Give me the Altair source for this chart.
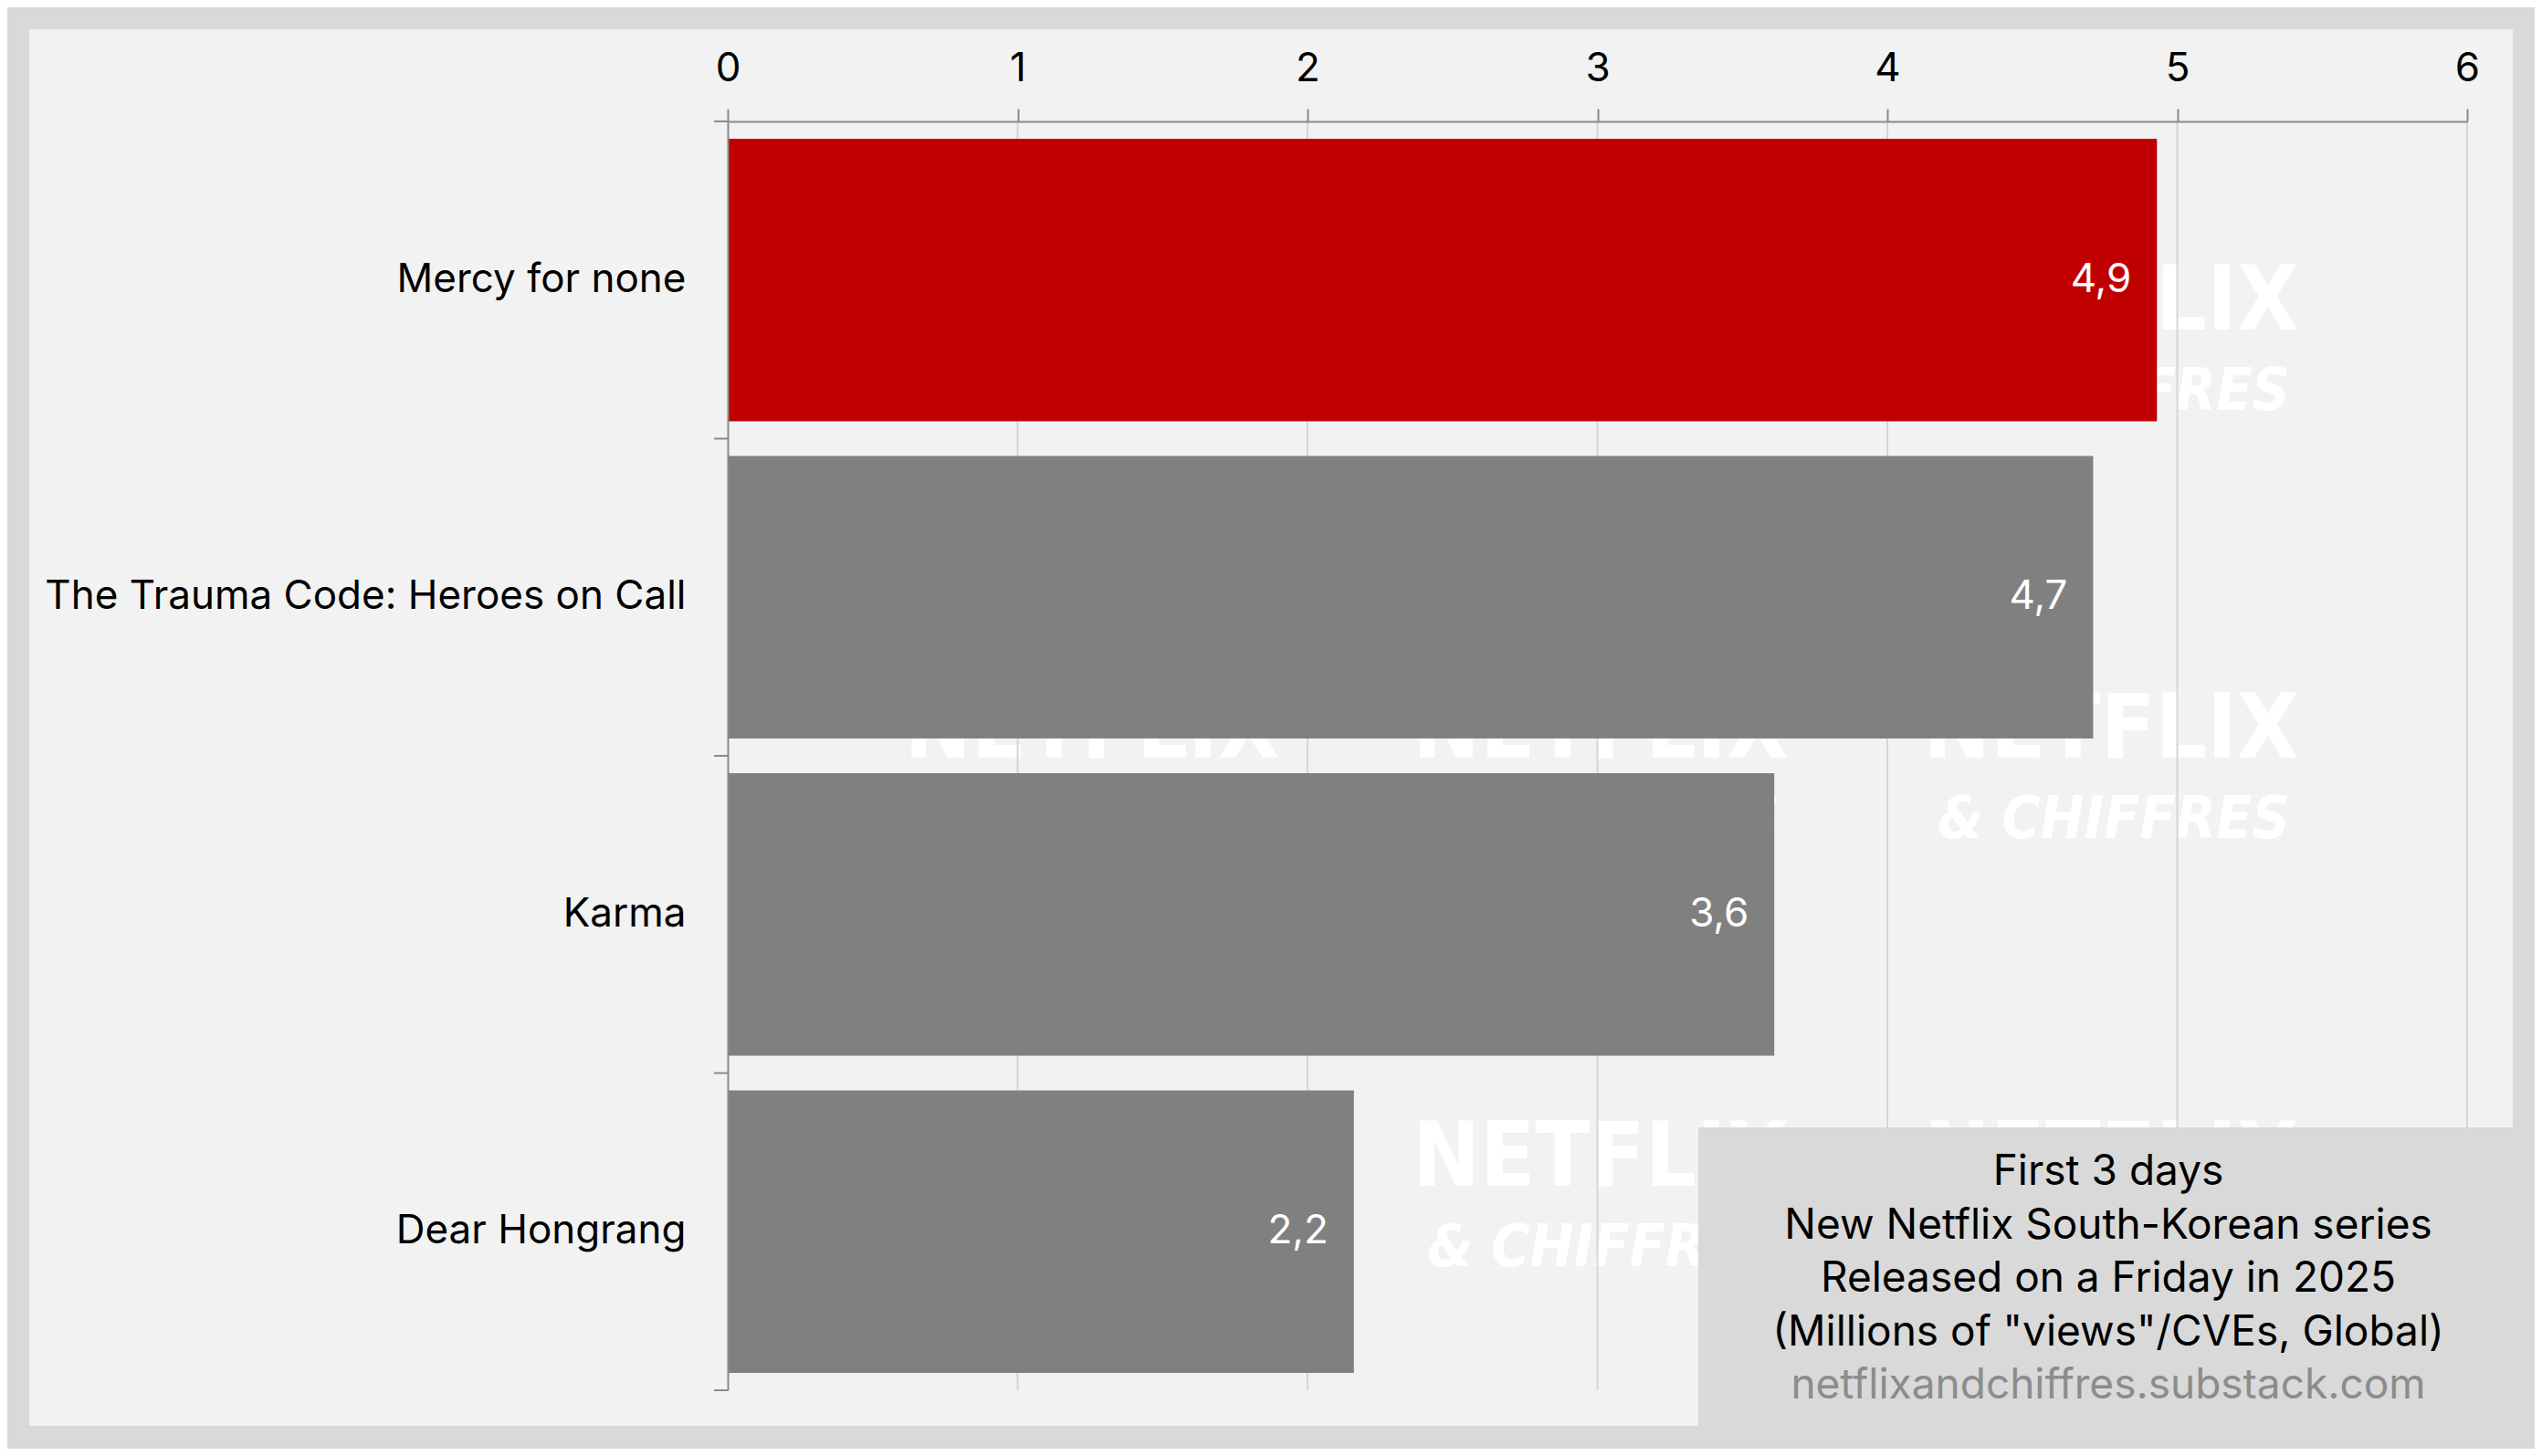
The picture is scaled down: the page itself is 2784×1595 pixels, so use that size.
import altair as alt
import pandas as pd

# ---- data ----
titles = ["Mercy for none", "The Trauma Code: Heroes on Call", "Karma", "Dear Hongrang"]
views = [4.93, 4.71, 3.61, 2.16]
value_labels = ["4,9", "4,7", "3,6", "2,2"]
highlight = [True, False, False, False]
x_ticks = [0, 1, 2, 3, 4, 5, 6]
note_lines = [
    "First 3 days",
    "New Netflix South-Korean series",
    "Released on a Friday in 2025",
    '(Millions of "views"/CVEs, Global)',
]
source_text = "netflixandchiffres.substack.com"
wm_top = "NETFLIX"
wm_bottom = "& CHIFFRES"

# ---- layout / style ----
W, H = 1905, 1390
PAD_INNER, PAD_OUTER = 0.11, 0.055
STEP = H / len(titles)
GAP = STEP * PAD_INNER / 2
FONT = "Inter"
FS = 44
NOTE_FS = 46
AXIS_GRAY = "#8a8a8a"
WM_FONT = "DejaVu Sans Condensed, Liberation Sans, sans-serif"

df = pd.DataFrame({"title": titles, "views": views, "label": value_labels, "hl": highlight})
grid_df = pd.DataFrame({"v": x_ticks[1:]})
one = pd.DataFrame({"a": [0]})

xscale = alt.Scale(domain=[x_ticks[0], x_ticks[-1]], nice=False)
yscale = alt.Scale(domain=titles, paddingInner=PAD_INNER, paddingOuter=PAD_OUTER)

panel = alt.Chart(one).mark_rect(color="#f2f2f2").encode(
    x=alt.value(-765), x2=alt.value(1955), y=alt.value(-101), y2=alt.value(1429)
)

wm_layers = []
for cx in (399, 956, 1515):
    for by in (228, 697, 1166):
        wm_layers.append(
            alt.Chart(one).mark_text(
                text=wm_top, font=WM_FONT, fontWeight="bold", fontSize=98,
                color="white", align="center", baseline="alphabetic"
            ).encode(x=alt.value(cx), y=alt.value(by))
        )
        wm_layers.append(
            alt.Chart(one).mark_text(
                text=wm_bottom, font=WM_FONT, fontWeight="bold", fontStyle="italic",
                fontSize=64, color="white", align="center", baseline="alphabetic"
            ).encode(x=alt.value(cx + 3), y=alt.value(by + 88))
        )

grid = alt.Chart(grid_df).mark_rule(color="#d6d6d6", strokeWidth=2).encode(
    x=alt.X("v:Q", scale=xscale), y=alt.value(0), y2=alt.value(H)
)

bars = alt.Chart(df).mark_bar().encode(
    x=alt.X(
        "views:Q", scale=xscale,
        axis=alt.Axis(
            orient="top", values=x_ticks, grid=False, tickSize=14, labelPadding=22,
            domainColor=AXIS_GRAY, tickColor=AXIS_GRAY, domainWidth=2, tickWidth=2,
            labelFontSize=FS, labelColor="black", labelFont=FONT, title=None,
            labelFlush=False, zindex=1, format="d"
        ),
    ),
    y=alt.Y(
        "title:N", sort=titles, scale=yscale,
        axis=alt.Axis(
            ticks=False, labelPadding=46, domainColor=AXIS_GRAY, domainWidth=2,
            labelFontSize=FS, labelColor="black", labelFont=FONT, title=None,
            labelLimit=2000, zindex=1
        ),
    ),
    color=alt.condition("datum.hl", alt.value("#c00000"), alt.value("#808080")),
)

labels = alt.Chart(df).mark_text(
    align="right", baseline="middle", dx=-28, color="white", fontSize=FS, font=FONT
).encode(
    x=alt.X("views:Q", scale=xscale),
    y=alt.Y("title:N", sort=titles, scale=yscale),
    text="label:N",
)

ticks_top = alt.Chart(df).mark_rule(color=AXIS_GRAY, strokeWidth=2, yOffset=-GAP).encode(
    y=alt.Y("title:N", sort=titles, scale=yscale, bandPosition=0),
    x=alt.value(-15), x2=alt.value(0),
)
ticks_end = alt.Chart(df).transform_filter(
    alt.datum.title == titles[-1]
).mark_rule(color=AXIS_GRAY, strokeWidth=2, yOffset=GAP).encode(
    y=alt.Y("title:N", sort=titles, scale=yscale, bandPosition=1),
    x=alt.value(-15), x2=alt.value(0),
)

box = alt.Chart(one).mark_rect(color="#d9d9d9").encode(
    x=alt.value(1063), x2=alt.value(1955), y=alt.value(1102), y2=alt.value(1429)
)
note = alt.Chart(one).mark_text(
    text="\n".join(note_lines), lineBreak="\n", lineHeight=58.5, fontSize=NOTE_FS,
    font=FONT, color="black", align="center", baseline="alphabetic"
).encode(x=alt.value(1512), y=alt.value(1165))
src = alt.Chart(one).mark_text(
    text=source_text, fontSize=NOTE_FS, font=FONT, color="#8c8c8c", align="center",
    baseline="alphabetic"
).encode(x=alt.value(1512), y=alt.value(1399))

chart = alt.layer(
    panel, *wm_layers, grid, bars, labels, ticks_top, ticks_end, box, note, src
).properties(
    width=W, height=H,
    padding={"left": 789, "top": 125, "right": 74, "bottom": 64},
    autosize=alt.AutoSizeParams(type="none"),
).configure(background="#d9d9d9").configure_view(stroke=None)

chart.save("out.html", embed_options={"renderer": "svg", "actions": False})
